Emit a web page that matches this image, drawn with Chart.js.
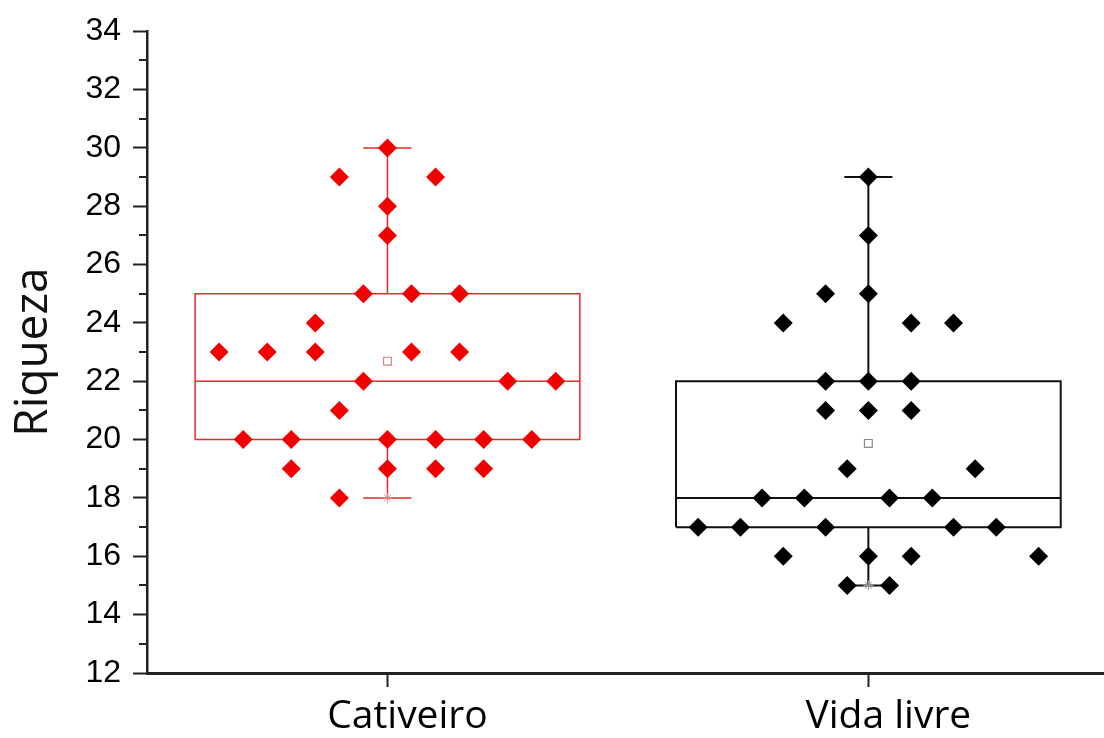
<!DOCTYPE html>
<html>
<head>
<meta charset="utf-8">
<script src="https://cdn.jsdelivr.net/npm/chart.js@4.4.1/dist/chart.umd.min.js"></script>
<style>
html,body{margin:0;padding:0;background:#fff;}
#wrap{width:1104px;height:738px;position:relative;}
</style>
</head>
<body>
<div id="wrap"><canvas id="c" width="1104" height="738"></canvas></div>
<script>
// ---- data ----
const categories = ['Cativeiro', 'Vida livre'];
const categoryPos = [1, 2];
const yTickValues = [12, 14, 16, 18, 20, 22, 24, 26, 28, 30, 32, 34];

const cativeiroX = [1.00, 0.90, 1.10, 1.00, 1.00, 0.95, 1.05, 1.15, 0.85,
  0.65, 0.75, 0.85, 1.05, 1.15, 0.95, 1.25, 1.35, 0.90,
  0.70, 0.80, 1.00, 1.10, 1.20, 1.30, 0.80, 1.00, 1.10, 1.20, 0.90];
const cativeiroY = [30, 29, 29, 28, 27, 25, 25, 25, 24,
  23, 23, 23, 23, 23, 22, 22, 22, 21,
  20, 20, 20, 20, 20, 20, 19, 19, 19, 19, 18];

const vidaX = [2.000, 2.000, 1.911, 2.000, 1.823, 2.089, 2.177,
  1.911, 2.000, 2.089, 1.911, 2.000, 2.089, 1.956, 2.222,
  1.779, 1.867, 2.044, 2.133, 1.646, 1.734, 1.911, 2.177, 2.266,
  1.823, 2.000, 2.089, 2.354, 1.956, 2.044];
const vidaY = [29, 27, 25, 25, 24, 24, 24,
  22, 22, 22, 21, 21, 21, 19, 19,
  18, 18, 18, 18, 17, 17, 17, 17, 17,
  16, 16, 16, 16, 15, 15];

const boxQ1 = [20, 17];
const boxMedian = [22, 18];
const boxQ3 = [25, 22];
const whiskerLow = [18, 15];
const whiskerHigh = [30, 29];
const means = [22.69, 19.87];

// ---- styling constants ----
const BOX_HALF = 0.4;
const CAP_HALF = 0.05;
const groupColors = ['#f20000', '#000000'];
const boxLineColors = ['#e42a2a', '#111111'];
const boxLineWidths = [1.5, 2];
const meanColors = ['#d98080', '#8a8a8a'];

function boxSegments(i) {
  const c = categoryPos[i];
  const L = c - BOX_HALF, R = c + BOX_HALF;
  const pts = [];
  const gap = () => pts.push({x: c, y: null});
  pts.push({x: L, y: boxQ1[i]}, {x: R, y: boxQ1[i]}, {x: R, y: boxQ3[i]}, {x: L, y: boxQ3[i]}, {x: L, y: boxQ1[i]});
  gap();
  pts.push({x: L, y: boxMedian[i]}, {x: R, y: boxMedian[i]});
  gap();
  pts.push({x: c, y: boxQ3[i]}, {x: c, y: whiskerHigh[i]});
  gap();
  pts.push({x: c - CAP_HALF, y: whiskerHigh[i]}, {x: c + CAP_HALF, y: whiskerHigh[i]});
  gap();
  pts.push({x: c, y: boxQ1[i]}, {x: c, y: whiskerLow[i]});
  gap();
  pts.push({x: c - CAP_HALF, y: whiskerLow[i]}, {x: c + CAP_HALF, y: whiskerLow[i]});
  return pts;
}

const datasets = [];
[0, 1].forEach(i => {
  datasets.push({
    type: 'scatter',
    data: boxSegments(i),
    showLine: true,
    spanGaps: false,
    borderColor: boxLineColors[i],
    borderWidth: boxLineWidths[i],
    pointRadius: 0,
    fill: false,
    order: 5
  });
});
datasets.push({
  data: cativeiroX.map((x, k) => ({x, y: cativeiroY[k]})),
  pointStyle: 'rectRot', pointRadius: 9.5, pointBackgroundColor: groupColors[0],
  pointBorderWidth: 0, borderWidth: 0, order: 1
});
datasets.push({
  data: vidaX.map((x, k) => ({x, y: vidaY[k]})),
  pointStyle: 'rectRot', pointRadius: 9.5, pointBackgroundColor: groupColors[1],
  pointBorderWidth: 0, borderWidth: 0, order: 1
});
datasets.push({
  data: categoryPos.map((c, i) => ({x: c, y: means[i]})),
  pointStyle: 'rect', pointRadius: 5.5, pointBackgroundColor: '#ffffff',
  pointBorderColor: meanColors, pointBorderWidth: 1.2, order: 2
});
datasets.push({
  data: categoryPos.map((c, i) => ({x: c, y: whiskerLow[i]})),
  pointStyle: 'star', pointRadius: 5, pointBackgroundColor: 'rgba(0,0,0,0)',
  pointBorderColor: ['#e88a8a', '#999999'], pointBorderWidth: 1, order: 3
});

const minorTicks = {
  id: 'minorTicks',
  afterDraw(chart) {
    const y = chart.scales.y;
    const ctx = chart.ctx;
    const x0 = chart.chartArea.left;
    ctx.save();
    ctx.strokeStyle = '#222';
    ctx.lineWidth = 2;
    for (let v = y.min + 1; v < y.max; v += 2) {
      const py = Math.round(y.getPixelForValue(v));
      ctx.beginPath();
      ctx.moveTo(x0 - 8, py);
      ctx.lineTo(x0, py);
      ctx.stroke();
    }
    ctx.restore();
  }
};

new Chart(document.getElementById('c'), {
  type: 'scatter',
  data: {datasets},
  options: {
    responsive: false,
    devicePixelRatio: 1,
    animation: false,
    layout: {autoPadding: false, padding: {top: 12, right: 0, left: 0, bottom: 0}},
    plugins: {legend: {display: false}, tooltip: {enabled: false}},
    scales: {
      x: {
        type: 'linear', min: 0.5, max: 2.49,
        afterBuildTicks: s => { s.ticks = categoryPos.map(v => ({value: v})); },
        afterFit: s => { s.height = 65; },
        ticks: {
          callback: v => categories[categoryPos.indexOf(v)],
          font: {family: 'Open Sans', size: 39},
          color: '#000', padding: 6, labelOffset: 20,
          autoSkip: false, maxRotation: 0
        },
        grid: {drawOnChartArea: false, drawTicks: true, tickLength: 14, tickColor: '#222', tickWidth: 2},
        border: {display: true, color: '#222', width: 3}
      },
      y: {
        min: 12, max: 34,
        afterBuildTicks: s => { s.ticks = yTickValues.map(v => ({value: v})); },
        afterFit: s => { s.width = 147; },
        ticks: {font: {family: 'Liberation Sans', size: 32}, color: '#000', padding: 12},
        grid: {drawOnChartArea: false, drawTicks: true, tickLength: 14, tickColor: '#222', tickWidth: 2},
        border: {display: true, color: '#222', width: 2.5},
        title: {display: true, text: 'Riqueza', font: {family: 'Open Sans', size: 46}, color: '#111', padding: {top: 6, bottom: 0}}
      }
    }
  },
  plugins: [minorTicks]
});
</script>
</body>
</html>
